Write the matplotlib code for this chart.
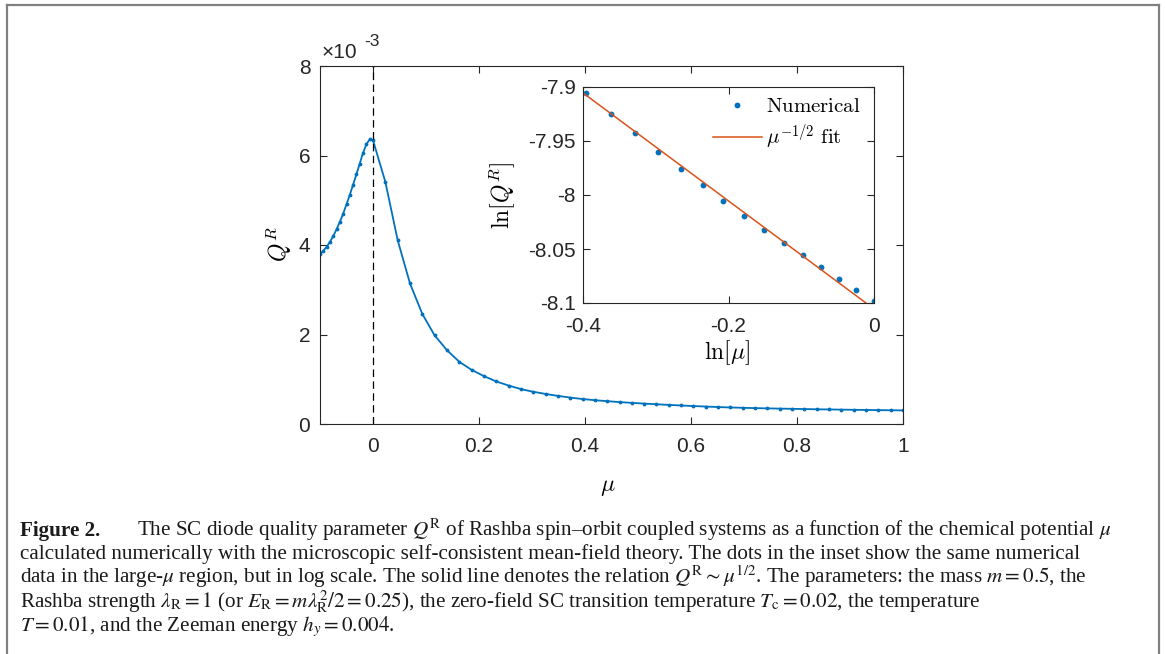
import matplotlib
matplotlib.use('Agg')
import matplotlib.pyplot as plt
from matplotlib.lines import Line2D

plt.rcParams['font.family'] = ['Liberation Sans', 'DejaVu Sans']
plt.rcParams['mathtext.fontset'] = 'cm'
plt.rcParams['axes.unicode_minus'] = False

# main curve: chemical potential mu and Q^R (x1e-3)
mu = [-0.1, -0.09375, -0.0875, -0.08125, -0.075, -0.06875, -0.0625, -0.05625,
      -0.05, -0.04375, -0.0375, -0.03125, -0.025, -0.01875, -0.0125, -0.00625, 0.0,
      0.0233, 0.0465, 0.0698, 0.0930, 0.1163, 0.1395, 0.1628, 0.1860, 0.2093,
      0.2326, 0.2558, 0.2791, 0.3023, 0.3256, 0.3488, 0.3721, 0.3953, 0.4186,
      0.4419, 0.4651, 0.4884, 0.5116, 0.5349, 0.5581, 0.5814, 0.6047, 0.6279,
      0.6512, 0.6744, 0.6977, 0.7209, 0.7442, 0.7674, 0.7907, 0.8140, 0.8372,
      0.8605, 0.8837, 0.9070, 0.9302, 0.9535, 0.9767, 1.0]
q_r = [3.79, 3.87, 3.96, 4.07, 4.20, 4.35, 4.52, 4.70, 4.91, 5.12, 5.35, 5.58,
       5.82, 6.06, 6.25, 6.36, 6.34,
       5.41, 4.11, 3.14, 2.46, 1.98, 1.65, 1.39, 1.21, 1.07, 0.95, 0.86, 0.78,
       0.72, 0.672, 0.628, 0.590, 0.558, 0.532, 0.510, 0.490, 0.472, 0.456,
       0.441, 0.427, 0.414, 0.401, 0.390, 0.379, 0.369, 0.362, 0.355, 0.349,
       0.344, 0.339, 0.334, 0.329, 0.325, 0.321, 0.317, 0.314, 0.310, 0.307, 0.304]

# inset (log scale)
ln_mu = [-0.3954, -0.3610, -0.3280, -0.2963, -0.2656, -0.2353, -0.2069, -0.1784,
         -0.1514, -0.1243, -0.0982, -0.0729, -0.0486, -0.0243, 0.0]
ln_q = [-7.9056, -7.9247, -7.9426, -7.9602, -7.9759, -7.9910, -8.0052, -8.0191,
        -8.0321, -8.0441, -8.0559, -8.0670, -8.0778, -8.0883, -8.0981]
fit_x = [-0.4, 0.0]
fit_y = [-7.9055, -8.1055]

caption = [
    r"The SC diode quality parameter $Q^{\mathrm{R}}$ of Rashba spin–orbit coupled systems as a function of the chemical potential $\mu$",
    r"calculated numerically with the microscopic self-consistent mean-field theory. The dots in the inset show the same numerical",
    r"data in the large-$\mu$ region, but in log scale. The solid line denotes the relation $Q^{\mathrm{R}}\sim\mu^{1/2}$. The parameters: the mass $m=0.5$, the",
    r"Rashba strength $\lambda_{\mathrm{R}}=1$ (or $E_{\mathrm{R}}=m\lambda_{\mathrm{R}}^2/2=0.25$), the zero-field SC transition temperature $T_{\mathrm{c}}=0.02$, the temperature",
    r"$T=0.01$, and the Zeeman energy $h_y=0.004$.",
]

blue = '#0072BD'
orange = '#D95319'
dark = '#262626'
W, H = 1165, 654

fig = plt.figure(figsize=(11.65, 6.54), dpi=100)

ax = fig.add_axes([320 / W, 1 - 424 / H, 583 / W, 358 / H])
ax.plot(mu, q_r, '-', color=blue, lw=1.3, marker='.', ms=3.5)
ax.axvline(0, color='k', lw=0.9, ls=(0, (6, 3.5)))
ax.set_xlim(-0.1, 1)
ax.set_ylim(0, 8)
ax.set_xticks([0, 0.2, 0.4, 0.6, 0.8, 1])
ax.set_xticklabels(['0', '0.2', '0.4', '0.6', '0.8', '1'])
ax.set_yticks([0, 2, 4, 6, 8])
ax.set_yticklabels(['0', '2', '4', '6', '8'])
ax.tick_params(direction='in', top=True, right=True, length=5, width=0.8,
               labelsize=15, colors=dark)
ax.tick_params(axis='x', pad=9)
ax.tick_params(axis='y', pad=7)
for s in ax.spines.values():
    s.set_color(dark)
    s.set_linewidth(0.8)
fig.text(279 / W, 1 - 244 / H, r'$Q^R$', rotation=90, ha='center', va='center', fontsize=17)
fig.text(608 / W, 1 - 487 / H, r'$\mu$', ha='center', va='center', fontsize=17)
fig.text(322 / W, 1 - 58 / H, '×10', fontsize=15, color=dark, va='baseline')
fig.text(364 / W, 1 - 46 / H, '-3', fontsize=12.5, color=dark, va='baseline')

ins = fig.add_axes([583 / W, 1 - 303 / H, 291 / W, 216 / H])
ins.plot(ln_mu, ln_q, 'o', color=blue, ms=4.2, mec='none', label=r'$\mathrm{Numerical}$')
ins.plot(fit_x, fit_y, '-', color=orange, lw=1.1, label=r'$\mu^{-1/2}\ \mathrm{fit}$')
ins.set_xlim(-0.4, 0)
ins.set_ylim(-8.1, -7.9)
ins.set_xticks([-0.4, -0.2, 0])
ins.set_xticklabels(['-0.4', '-0.2', '0'])
ins.set_yticks([-8.1, -8.05, -8, -7.95, -7.9])
ins.set_yticklabels(['-8.1', '-8.05', '-8', '-7.95', '-7.9'])
ins.tick_params(direction='in', top=True, right=True, length=5, width=0.8,
                labelsize=15, colors=dark)
ins.tick_params(axis='x', pad=10)
ins.tick_params(axis='y', pad=5)
for s in ins.spines.values():
    s.set_color(dark)
    s.set_linewidth(0.8)
fig.text(503 / W, 1 - 195 / H, r'$\ln[Q^R]$', rotation=90, ha='center', va='center', fontsize=17)
fig.text(727 / W, 1 - 353 / H, r'$\ln[\mu]$', ha='center', va='center', fontsize=17)
leg = ins.legend(loc='upper left', bbox_to_anchor=(713 / W, 1 - 97 / H),
                 bbox_transform=fig.transFigure, frameon=False, fontsize=15,
                 handlelength=2.35, handletextpad=0.2, borderpad=0, borderaxespad=0,
                 labelspacing=0.3, numpoints=1)
ins.patch.set_facecolor('white')

# caption
x0, dy = 20 / W, 23.5 / H
baselines = [536, 559.5, 583, 607.5, 631]
cap_font = dict(family='Liberation Serif', fontsize=15.2, math_fontfamily='stix', color='#1a1a1a')
fig.text(x0, 1 - baselines[0] / H, 'Figure 2.', fontweight='bold', va='baseline', **cap_font)
fig.text(x0 + 117 / W, 1 - baselines[0] / H, caption[0], va='baseline', **cap_font)
for line, yb in zip(caption[1:], baselines[1:]):
    fig.text(x0, 1 - yb / H, line, va='baseline', **cap_font)

# frame around figure
frame = dict(color='#808080', lw=1.6, transform=fig.transFigure)
fig.add_artist(Line2D([7 / W, 7 / W], [0, 1 - 5 / H], **frame))
fig.add_artist(Line2D([7 / W, 1159 / W], [1 - 5 / H, 1 - 5 / H], **frame))
fig.add_artist(Line2D([1159 / W, 1159 / W], [0, 1 - 5 / H], **frame))

fig.savefig('out.png', dpi=100)
